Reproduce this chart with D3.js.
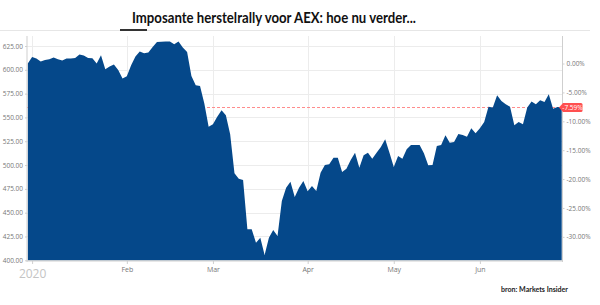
<!DOCTYPE html>
<html>
<head>
<meta charset="utf-8">
<script src="https://cdn.jsdelivr.net/npm/d3@7"></script>
<style>
  body { margin: 0; background: #fff; }
  svg { display: block; font-family: "Open Sans", sans-serif; }
</style>
</head>
<body>
<svg id="chart" width="600" height="305"></svg>
<script>
// AEX closing levels, one per trading day (31 dec 2019 t/m 26 jun 2020)
let aexValues = [
  606.6, 613.5, 611.8, 608.6, 610.4, 611.1, 612.8, 611.1, 609.7, 611.8,
  612.0, 612.5, 616.0, 614.9, 612.5, 612.2, 606.5, 615.3, 600.6, 603.4,
  605.5, 599.9, 590.8, 593.3, 604.8, 613.9, 619.1, 617.4, 618.1, 624.0,
  629.3, 629.5, 629.6, 629.6, 626.9, 629.6, 623.3, 618.8, 593.6, 583.8,
  583.1, 564.7, 540.3, 542.9, 550.8, 557.6, 552.3, 532.4, 491.4, 485.7,
  484.3, 432.6, 432.6, 418.5, 423.7, 405.6, 423.7, 431.8, 425.5, 462.3,
  476.3, 482.6, 466.5, 476.3, 483.3, 472.5, 478.0, 472.8, 492.0, 500.1,
  500.8, 507.8, 507.8, 492.8, 496.2, 505.4, 513.0, 497.3, 510.3, 513.0,
  506.7, 513.0, 519.0, 527.1, 513.0, 498.0, 509.6, 506.7, 516.6, 521.1,
  521.1, 521.1, 512.4, 499.8, 500.1, 520.1, 521.1, 531.3, 523.5, 524.3,
  532.7, 531.6, 529.8, 538.7, 533.4, 538.7, 545.3, 561.3, 560.3, 573.3,
  567.3, 563.9, 561.3, 541.8, 545.3, 542.9, 560.3, 566.6, 563.9, 568.1,
  566.3, 574.4, 559.2, 561.0, 560.55
];
let firstDay = "2019-12-31";
let lastDay = "2020-06-26";
let closedDays = ["2020-01-01", "2020-04-10", "2020-04-13", "2020-05-01"];
let leftTicks = [400, 425, 450, 475, 500, 525, 550, 575, 600, 625];
let pctTicks = [0, -5, -10, -15, -20, -25, -30];
let monthLabels = ["2020", "Feb", "Mar", "Apr", "May", "Jun"];
let titleText = "Imposante herstelrally voor AEX: hoe nu verder...";
let sourceText = "bron: Markets Insider";

// trading calendar
let fmtDay = d3.timeFormat("%Y-%m-%d");
let tradingDays = d3.timeDay.range(d3.timeParse("%Y-%m-%d")(firstDay), d3.timeDay.offset(d3.timeParse("%Y-%m-%d")(lastDay), 1))
  .filter(function(d){ return d.getDay() != 0 && d.getDay() != 6 && closedDays.indexOf(fmtDay(d)) < 0; })
  .map(fmtDay);

let data = tradingDays.map(function(d, i){ return {day: d, value: aexValues[i]}; });
let baseValue = aexValues[0];
let lastValue = aexValues[aexValues.length - 1];

// first trading day of every month from jan on
let monthStarts = [];
tradingDays.forEach(function(d, i){
  if(i > 0 && d.slice(0, 7) != tradingDays[i-1].slice(0, 7)){ monthStarts.push(d); }
});

let svg = d3.select("#chart");

let x = d3.scalePoint().domain(tradingDays).range([27.8, 561.7]);
let y = d3.scaleLinear().domain([400, 635.5]).range([260.3, 36]);
let yPct = d3.scaleLinear()
  .domain([(400 / baseValue - 1) * 100, (635.5 / baseValue - 1) * 100])
  .range([260.3, 36]);

// title + header rules
svg.append("line")
  .attr("x1", 0).attr("x2", 590).attr("y1", 30.5).attr("y2", 30.5)
  .style("stroke", "#e6e6e6").style("stroke-width", 1);
svg.append("line")
  .attr("x1", 120).attr("x2", 147).attr("y1", 30).attr("y2", 30)
  .style("stroke", "#333").style("stroke-width", 2);
svg.append("text")
  .attr("x", 132).attr("y", 23)
  .attr("textLength", 284).attr("lengthAdjust", "spacingAndGlyphs")
  .style("font-family", "Lato, sans-serif")
  .style("font-weight", "bold")
  .style("font-size", "16px")
  .style("fill", "#111")
  .text(titleText);

// grid
svg.append("g").attr("class", "gridY")
  .selectAll("line").data(leftTicks).enter().append("line")
    .attr("x1", 27).attr("x2", 562.5)
    .attr("y1", function(d){ return Math.round(y(d)) + 0.5; })
    .attr("y2", function(d){ return Math.round(y(d)) + 0.5; })
    .style("stroke", "#ececec");
svg.append("g").attr("class", "gridX")
  .selectAll("line").data(monthStarts).enter().append("line")
    .attr("x1", function(d){ return Math.round(x(d)) + 0.5; })
    .attr("x2", function(d){ return Math.round(x(d)) + 0.5; })
    .attr("y1", 36).attr("y2", 262)
    .style("stroke", "#ececec");

// last value reference line (sits under the area)
svg.append("line")
  .attr("x1", 27).attr("x2", 562)
  .attr("y1", Math.round(y(lastValue)) + 0.5).attr("y2", Math.round(y(lastValue)) + 0.5)
  .style("stroke", "#ff8c8c")
  .style("stroke-width", 1)
  .style("stroke-dasharray", "3,2");

// area
let area = d3.area()
  .x(function(d){ return x(d.day); })
  .y0(y(400))
  .y1(function(d){ return y(d.value); });

svg.append("path")
  .datum(data)
  .attr("d", area)
  .style("fill", "#05488a");

// axes
let leftAxis = svg.append("g")
  .attr("transform", "translate(27,0)")
  .call(d3.axisLeft(y).tickValues(leftTicks).tickSize(2).tickPadding(2).tickFormat(function(d){ return d.toFixed(2); }));
let rightAxis = svg.append("g")
  .attr("transform", "translate(562.5,0)")
  .call(d3.axisRight(yPct).tickValues(pctTicks).tickSize(2).tickPadding(2).tickFormat(function(d){ return d.toFixed(2) + "%"; }));
let bottomAxis = svg.append("g")
  .attr("transform", "translate(0,261)")
  .call(d3.axisBottom(x).tickValues(monthStarts).tickSize(3).tickPadding(3)
    .tickFormat(function(d, i){ return monthLabels[i]; }));

[leftAxis, rightAxis, bottomAxis].forEach(function(g){
  g.select(".domain").style("stroke", "#cfcfcf");
  g.selectAll(".tick line").style("stroke", "#cfcfcf");
  g.selectAll(".tick text").style("fill", "#777").style("font-size", "6.5px").style("font-family", "'Open Sans', sans-serif");
});
leftAxis.select(".domain").attr("d", "M0,36V262");
rightAxis.select(".domain").attr("d", "M0,36V262");
bottomAxis.select(".domain").attr("d", "M27,0H562.5");
bottomAxis.selectAll(".tick text")
  .style("font-size", function(d, i){ return i == 0 ? "12px" : "7px"; })
  .style("fill", function(d, i){ return i == 0 ? "#c4c4c4" : "#777"; })
  .attr("dy", function(d, i){ return i == 0 ? "0.95em" : "0.71em"; });

// last value badge
let badgeY = y(lastValue);
svg.append("path")
  .attr("d", "M559," + badgeY + "L563," + (badgeY - 4.5) + "H581a1.5,1.5 0 0 1 1.5,1.5V" + (badgeY + 3) + "a1.5,1.5 0 0 1 -1.5,1.5H563Z")
  .style("fill", "#ff5050");
svg.append("text")
  .attr("x", 572.5).attr("y", badgeY)
  .attr("dy", "0.35em")
  .attr("text-anchor", "middle")
  .style("font-size", "6.5px")
  .style("fill", "#fff")
  .text(((lastValue / baseValue - 1) * 100).toFixed(2) + "%");

// source
svg.append("text")
  .attr("x", 501).attr("y", 292)
  .attr("textLength", 67).attr("lengthAdjust", "spacingAndGlyphs")
  .style("font-family", "Lato, sans-serif")
  .style("font-weight", "bold")
  .style("font-size", "8px")
  .style("fill", "#222")
  .text(sourceText);
</script>
</body>
</html>
